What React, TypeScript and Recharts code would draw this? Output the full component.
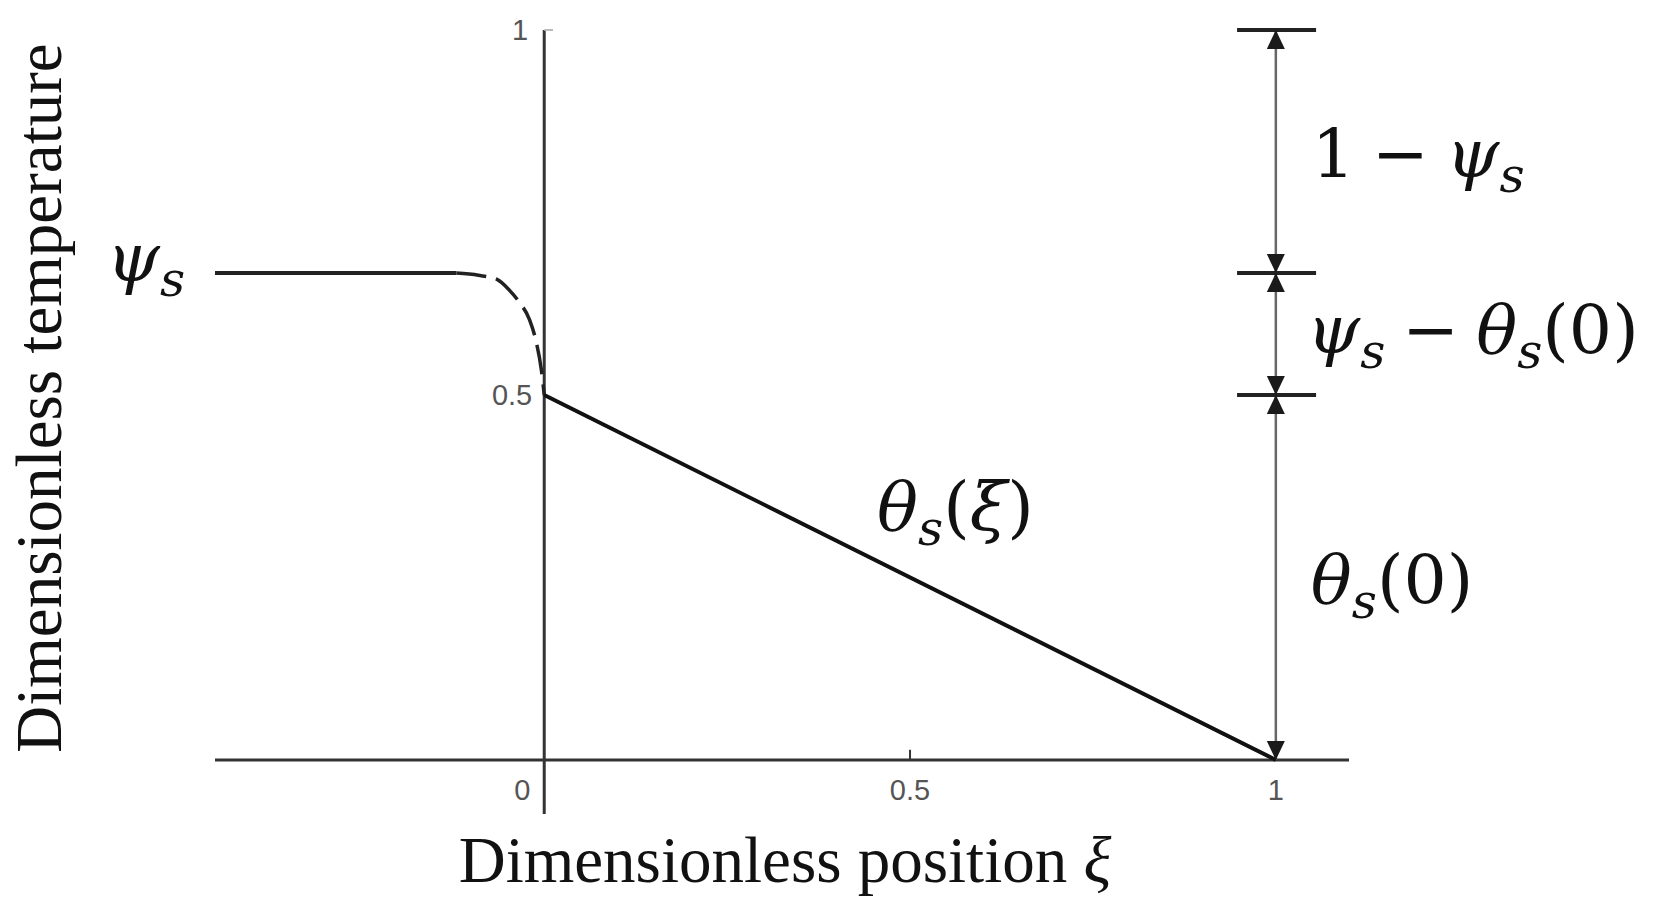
import React from "react";
import {
  ComposedChart,
  Line,
  Scatter,
  XAxis,
  YAxis,
  ReferenceLine,
  ReferenceDot,
} from "recharts";

// surface temperature level
const PSI_S = 0.667;

// tick values / labels
const xTicks = [0, 0.5, 1];
const xTickLabels = ["0", "0.5", "1"];
const yTicks = [0.5, 1];
const yTickLabels = ["0.5", "1"];

// flat part at psi_s (solid)
const plateauX = [-0.45, -0.12];
// smooth drop from psi_s to theta_s(0) (dashed)
const transitionX = [-0.12, -0.09, -0.064, -0.048, -0.034, -0.02, -0.011, -0.004, 0];
const transitionY = [0.667, 0.664, 0.658, 0.644, 0.627, 0.603, 0.573, 0.535, 0.5];
// linear profile theta_s(xi)
const profileX = [0, 1];
const profileY = [0.5, 0];

// dimension bars on the right
const dimLevels = [1, PSI_S, 0.5];
const barX = [0.947, 1.055];
const arrowY = [1, PSI_S, PSI_S, 0.5, 0.5, 0];
const arrowDir = ["up", "down", "up", "down", "up", "down"];

const plateauData = plateauX.map((x) => ({ x, y: PSI_S }));
const transitionData = transitionX.map((x, i) => ({ x, y: transitionY[i] }));
const profileData = profileX.map((x, i) => ({ x, y: profileY[i] }));
const arrowData = arrowY.map((y, i) => ({ x: 1, y, dir: arrowDir[i] }));

type Part = { t: string; i?: boolean; sub?: boolean };

const MATH_FONT = "'DejaVu Serif', serif";
const TEXT_FONT = "'Liberation Serif', 'Times New Roman', serif";
const SP = "\u2005"; // narrow math space around the minus sign

const MathText = ({
  x,
  y,
  parts,
  size = 68,
  anchor = "start",
}: {
  x: number;
  y: number;
  parts: Part[];
  size?: number;
  anchor?: "start" | "end" | "middle";
}) => {
  const shift = size * 0.22;
  let low = false;
  const spans = parts.map((p, k) => {
    let dy = 0;
    if (p.sub && !low) {
      dy = shift;
      low = true;
    } else if (!p.sub && low) {
      dy = -shift;
      low = false;
    }
    return (
      <tspan
        key={k}
        dy={dy}
        fontStyle={p.i ? "italic" : "normal"}
        fontSize={p.sub ? size * 0.72 : size}
      >
        {p.t}
      </tspan>
    );
  });
  return (
    <text
      x={x}
      y={y}
      fontFamily={MATH_FONT}
      fontSize={size}
      textAnchor={anchor}
      fill="#111"
      xmlSpace="preserve"
    >
      {spans}
    </text>
  );
};

const psiS: Part[] = [{ t: "ψ", i: true }, { t: "s", i: true, sub: true }];
const thetaS: Part[] = [{ t: "θ", i: true }, { t: "s", i: true, sub: true }];

const labelOneMinusPsi: Part[] = [{ t: `1${SP}−${SP}` }, ...psiS];
const labelPsiMinusTheta: Part[] = [...psiS, { t: `${SP}−${SP}` }, ...thetaS, { t: "(0)" }];
const labelTheta0: Part[] = [...thetaS, { t: "(0)" }];
const labelThetaXi: Part[] = [...thetaS, { t: "(" }, { t: "ξ", i: true }, { t: ")" }];

const mathLabel =
  (parts: Part[], dx: number, dy: number, anchor: "start" | "end" = "start") =>
  (props: any) =>
    <MathText x={props.cx + dx} y={props.cy + dy} parts={parts} anchor={anchor} />;

const tickText =
  (text: string, dx: number, dy: number, anchor: "start" | "end" | "middle") =>
  (props: any) =>
    (
      <text
        x={props.cx + dx}
        y={props.cy + dy}
        textAnchor={anchor}
        fontFamily="'Liberation Sans', Arial, sans-serif"
        fontSize={29}
        fill="#555"
      >
        {text}
      </text>
    );

const Arrow = (props: any) => {
  const { cx, cy } = props;
  const dir = props.payload?.dir ?? props.dir;
  const h = 19;
  const w = 9;
  const by = dir === "up" ? cy + h : cy - h;
  return (
    <polygon
      points={`${cx},${cy} ${cx - w},${by} ${cx + w},${by}`}
      fill="#1a1a1a"
    />
  );
};

export default function App() {
  return (
    <div style={{ position: "absolute", left: 0, top: 0, background: "#fff" }}>
      <ComposedChart
        width={1668}
        height={915}
        margin={{ top: 30, right: 319, bottom: 0, left: 0 }}
      >
        <XAxis
          type="number"
          dataKey="x"
          domain={[-0.45, 1.1]}
          ticks={xTicks}
          allowDataOverflow
          tick={false}
          tickLine={false}
          axisLine={false}
          height={101}
          label={{
            content: (p: any) => (
              <text
                x={p.viewBox.x + p.viewBox.width / 2 + 3}
                y={p.viewBox.y + 68}
                textAnchor="middle"
                fontFamily={TEXT_FONT}
                fontSize={65}
                fill="#111"
              >
                Dimensionless position <tspan fontStyle="italic">ξ</tspan>
              </text>
            ),
          }}
        />
        <YAxis
          type="number"
          dataKey="y"
          domain={[-0.074, 1]}
          ticks={yTicks}
          allowDataOverflow
          tick={false}
          tickLine={false}
          axisLine={false}
          width={215}
          label={{
            content: (p: any) => {
              const cx = 61;
              const cy = p.viewBox.y + p.viewBox.height / 2 - 24;
              return (
                <text
                  x={cx}
                  y={cy}
                  transform={`rotate(-90, ${cx}, ${cy})`}
                  textAnchor="middle"
                  fontFamily={TEXT_FONT}
                  fontSize={65}
                  fill="#111"
                >
                  Dimensionless temperature
                </text>
              );
            },
          }}
        />

        {/* axes through the origin */}
        <ReferenceLine y={0} stroke="#333" strokeWidth={3} />
        <ReferenceLine x={0} stroke="#333" strokeWidth={3} />
        <ReferenceLine
          segment={[
            { x: 0.5, y: 0 },
            { x: 0.5, y: 0.014 },
          ]}
          stroke="#333"
          strokeWidth={2}
        />
        <ReferenceLine
          segment={[
            { x: 0, y: 1 },
            { x: 0.012, y: 1 },
          ]}
          stroke="#bbb"
          strokeWidth={2}
        />

        {/* dimension line */}
        <ReferenceLine
          segment={[
            { x: 1, y: 0 },
            { x: 1, y: 1 },
          ]}
          stroke="#666"
          strokeWidth={2.5}
        />
        {dimLevels.map((lv) => (
          <ReferenceLine
            key={lv}
            segment={[
              { x: barX[0], y: lv },
              { x: barX[1], y: lv },
            ]}
            stroke="#222"
            strokeWidth={4}
          />
        ))}

        <Line
          data={plateauData}
          dataKey="y"
          type="linear"
          stroke="#222"
          strokeWidth={4}
          dot={false}
          isAnimationActive={false}
        />
        <Line
          data={transitionData}
          dataKey="y"
          type="monotone"
          stroke="#222"
          strokeWidth={3.5}
          strokeDasharray="30 10"
          dot={false}
          isAnimationActive={false}
        />
        <Line
          data={profileData}
          dataKey="y"
          type="linear"
          stroke="#111"
          strokeWidth={4}
          dot={false}
          isAnimationActive={false}
        />
        <Scatter data={arrowData} shape={Arrow} isAnimationActive={false} />

        {/* tick labels */}
        {xTicks.map((t, i) => (
          <ReferenceDot
            key={"xt" + t}
            x={t}
            y={0}
            r={0}
            shape={tickText(xTickLabels[i], t === 0 ? -22 : 0, 40, "middle")}
          />
        ))}
        {yTicks.map((t, i) => (
          <ReferenceDot
            key={"yt" + t}
            x={0}
            y={t}
            r={0}
            shape={tickText(yTickLabels[i], t === 1 ? -16 : -12, 10, "end")}
          />
        ))}

        {/* math annotations */}
        <ReferenceDot x={-0.45} y={PSI_S} r={0} shape={mathLabel(psiS, -30, 8, "end")} />
        <ReferenceDot
          x={1}
          y={(1 + PSI_S) / 2}
          r={0}
          shape={mathLabel(labelOneMinusPsi, 36, 25)}
        />
        <ReferenceDot
          x={1}
          y={(PSI_S + 0.5) / 2}
          r={0}
          shape={mathLabel(labelPsiMinusTheta, 31, 19)}
        />
        <ReferenceDot x={1} y={0.25} r={0} shape={mathLabel(labelTheta0, 35, 26)} />
        <ReferenceDot x={0.455} y={0.315} r={0} shape={mathLabel(labelThetaXi, 0, 0)} />
      </ComposedChart>
    </div>
  );
}
